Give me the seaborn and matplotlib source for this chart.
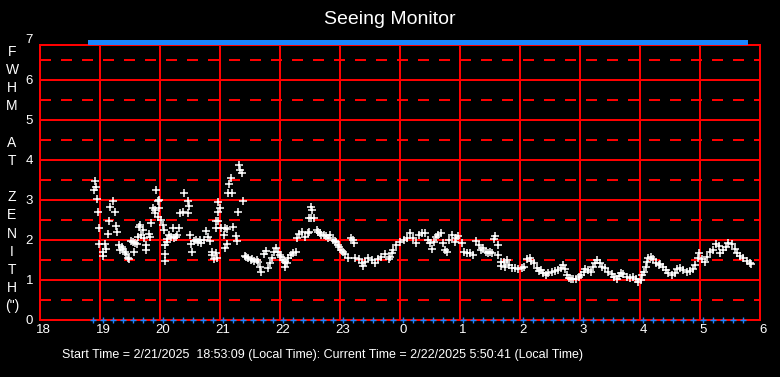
import matplotlib
matplotlib.use("Agg")
import matplotlib.pyplot as plt
import matplotlib.transforms as mtransforms
import pandas as pd
import seaborn as sns

# seeing samples: hour of night (hours after midnight run on past 24) and FWHM in arcsec
seeing_hour = [
    18.90, 18.91, 18.93, 18.95, 18.97, 18.98, 18.99, 19.05,
    19.05, 19.08, 19.10, 19.13, 19.15, 19.17, 19.22, 19.25,
    19.27, 19.29, 19.32, 19.33, 19.36, 19.38, 19.41, 19.44,
    19.47, 19.48, 19.51, 19.55, 19.57, 19.58, 19.61, 19.63,
    19.65, 19.66, 19.69, 19.72, 19.73, 19.76, 19.77, 19.81,
    19.83, 19.85, 19.88, 19.91, 19.92, 19.93, 19.96, 19.97,
    19.98, 19.99, 20.01, 20.05, 20.07, 20.08, 20.09, 20.09,
    20.12, 20.12, 20.15, 20.19, 20.21, 20.24, 20.27, 20.28,
    20.31, 20.34, 20.38, 20.40, 20.46, 20.46, 20.48, 20.50,
    20.52, 20.54, 20.57, 20.60, 20.63, 20.66, 20.69, 20.73,
    20.77, 20.80, 20.83, 20.86, 20.87, 20.90, 20.93, 20.94,
    20.93, 20.95, 20.96, 20.97, 20.97, 21.00, 21.02, 21.07,
    21.08, 21.08, 21.11, 21.12, 21.13, 21.15, 21.18, 21.20,
    21.22, 21.26, 21.28, 21.30, 21.32, 21.34, 21.37, 21.38,
    21.41, 21.44, 21.47, 21.51, 21.54, 21.57, 21.61, 21.63,
    21.66, 21.69, 21.74, 21.77, 21.80, 21.83, 21.86, 21.90,
    21.94, 21.97, 22.00, 22.02, 22.05, 22.08, 22.09, 22.12,
    22.14, 22.18, 22.22, 22.26, 22.29, 22.32, 22.36, 22.41,
    22.46, 22.48, 22.48, 22.51, 22.52, 22.54, 22.57, 22.61,
    22.64, 22.66, 22.69, 22.74, 22.77, 22.80, 22.84, 22.88,
    22.91, 22.93, 22.96, 22.98, 23.02, 23.05, 23.08, 23.13,
    23.19, 23.22, 23.24, 23.25, 23.31, 23.36, 23.39, 23.42,
    23.47, 23.53, 23.58, 23.64, 23.69, 23.75, 23.81, 23.83,
    23.86, 23.89, 23.94, 24.00, 24.06, 24.11, 24.17, 24.22,
    24.26, 24.31, 24.36, 24.42, 24.47, 24.50, 24.53, 24.56,
    24.60, 24.64, 24.68, 24.72, 24.75, 24.78, 24.82, 24.86,
    24.92, 24.94, 24.97, 25.03, 25.06, 25.11, 25.17, 25.22,
    25.27, 25.31, 25.35, 25.39, 25.43, 25.47, 25.50, 25.54,
    25.56, 25.58, 25.63, 25.64, 25.68, 25.69, 25.74, 25.75,
    25.78, 25.81, 25.86, 25.92, 25.97, 26.03, 26.07, 26.11,
    26.17, 26.19, 26.24, 26.28, 26.32, 26.35, 26.39, 26.43,
    26.47, 26.53, 26.58, 26.64, 26.68, 26.72, 26.75, 26.78,
    26.81, 26.85, 26.89, 26.94, 26.98, 27.02, 27.06, 27.08,
    27.14, 27.18, 27.22, 27.25, 27.29, 27.33, 27.37, 27.42,
    27.47, 27.53, 27.57, 27.61, 27.65, 27.69, 27.72, 27.78,
    27.83, 27.89, 27.94, 27.97, 28.01, 28.04, 28.07, 28.10,
    28.11, 28.14, 28.18, 28.22, 28.27, 28.31, 28.34, 28.39,
    28.43, 28.47, 28.53, 28.58, 28.62, 28.67, 28.72, 28.78,
    28.83, 28.88, 28.92, 28.96, 28.99, 29.03, 29.08, 29.12,
    29.17, 29.22, 29.27, 29.31, 29.34, 29.39, 29.43, 29.47,
    29.53, 29.58, 29.62, 29.67, 29.72, 29.78, 29.83, 29.85,
]
seeing_fwhm = [
    3.25, 3.47, 3.32, 3.03, 2.69, 2.29, 1.89, 1.71,
    1.60, 1.89, 1.77, 2.14, 2.47, 2.82, 2.97, 2.69,
    2.35, 2.19, 1.88, 1.75, 1.83, 1.78, 1.71, 1.64,
    1.54, 1.53, 1.98, 1.94, 1.71, 1.92, 1.89, 2.08,
    2.33, 2.38, 2.13, 2.25, 2.04, 1.75, 1.88, 2.14,
    2.08, 2.43, 2.81, 2.75, 2.68, 3.25, 2.97, 2.58,
    2.79, 3.00, 2.50, 2.38, 2.25, 1.88, 1.64, 1.48,
    2.03, 1.94, 2.13, 2.08, 2.29, 2.04, 2.08, 2.13,
    2.29, 2.67, 2.69, 3.18, 2.97, 2.67, 2.86, 2.13,
    1.89, 1.71, 1.98, 2.00, 1.94, 2.00, 1.92, 2.00,
    2.23, 2.08, 1.98, 1.71, 1.63, 1.53, 2.29, 2.47,
    1.67, 1.54, 2.47, 2.69, 2.96, 2.81, 2.31, 2.13,
    2.29, 1.81, 1.89, 2.28, 3.17, 3.39, 3.54, 3.17,
    2.33, 2.11, 1.98, 2.69, 3.88, 3.75, 3.67, 2.98,
    1.60, 1.58, 1.56, 1.50, 1.52, 1.48, 1.50, 1.46,
    1.33, 1.21, 1.64, 1.73, 1.29, 1.42, 1.54, 1.71,
    1.79, 1.69, 1.63, 1.58, 1.50, 1.46, 1.33, 1.42,
    1.54, 1.63, 1.67, 1.71, 2.04, 2.14, 2.19, 2.08,
    2.17, 2.19, 2.54, 2.54, 2.83, 2.75, 2.54, 2.25,
    2.20, 2.17, 2.13, 2.13, 2.10, 2.06, 2.13, 2.00,
    1.97, 1.94, 1.88, 1.83, 1.75, 1.69, 1.64, 1.56,
    2.04, 2.00, 1.93, 1.54, 1.52, 1.42, 1.35, 1.46,
    1.54, 1.50, 1.43, 1.52, 1.57, 1.65, 1.52, 1.57,
    1.67, 1.75, 1.88, 1.96, 2.00, 2.04, 2.17, 2.04,
    1.93, 2.13, 2.17, 2.18, 2.00, 1.92, 1.77, 1.96,
    2.08, 2.13, 2.18, 1.92, 1.75, 1.71, 2.00, 2.13,
    1.96, 2.04, 2.10, 1.93, 1.71, 1.67, 1.67, 1.63,
    1.98, 1.88, 1.75, 1.79, 1.71, 1.67, 1.71, 1.67,
    2.02, 2.10, 1.88, 1.63, 1.46, 1.35, 1.46, 1.33,
    1.50, 1.38, 1.29, 1.29, 1.27, 1.29, 1.33, 1.52,
    1.54, 1.48, 1.42, 1.29, 1.23, 1.25, 1.18, 1.13,
    1.17, 1.21, 1.23, 1.25, 1.29, 1.38, 1.27, 1.13,
    1.04, 1.02, 1.02, 1.02, 1.07, 1.13, 1.21, 1.27,
    1.25, 1.21, 1.33, 1.43, 1.50, 1.42, 1.33, 1.29,
    1.21, 1.15, 1.08, 1.02, 1.10, 1.17, 1.15, 1.07,
    1.04, 1.08, 1.02, 0.96, 1.00, 1.13, 1.21, 1.33,
    1.46, 1.54, 1.57, 1.52, 1.43, 1.38, 1.40, 1.33,
    1.25, 1.18, 1.13, 1.18, 1.27, 1.29, 1.25, 1.21,
    1.23, 1.27, 1.38, 1.54, 1.67, 1.52, 1.46, 1.58,
    1.71, 1.75, 1.90, 1.85, 1.67, 1.75, 1.83, 1.92,
    1.90, 1.77, 1.67, 1.60, 1.54, 1.48, 1.42, 1.40,
]

# status marks (one every 10 minutes) shown on the top and bottom edges
sample_clock = (
    "18:53 19:03 19:13 19:23 19:33 19:43 19:53 20:03 20:13 20:23 20:33 20:43 20:53 "
    "21:03 21:13 21:23 21:33 21:43 21:53 22:03 22:13 22:23 22:33 22:43 22:53 "
    "23:03 23:13 23:23 23:33 23:43 23:53 00:03 00:13 00:23 00:33 00:43 00:53 "
    "01:03 01:13 01:23 01:33 01:43 01:53 02:03 02:13 02:23 02:33 02:43 02:53 "
    "03:03 03:13 03:23 03:33 03:43 03:53 04:03 04:13 04:23 04:33 04:43 04:53 "
    "05:03 05:13 05:23 05:33 05:43"
).split()

hour_ticks = [18, 19, 20, 21, 22, 23, 24, 25, 26, 27, 28, 29, 30]
hour_labels = ["18", "19", "20", "21", "22", "23", "0", "1", "2", "3", "4", "5", "6"]
fwhm_ticks = [0, 1, 2, 3, 4, 5, 6]
fwhm_half = [0.5, 1.5, 2.5, 3.5, 4.5, 5.5, 6.5]

title_text = "Seeing Monitor"
ylabel_chars = ["F", "W", "H", "M", "", "A", "T", "", "Z", "E", "N", "I", "T", "H", "(\")"]
footer_text = ("Start Time = 2/21/2025  18:53:09 (Local Time): "
               "Current Time = 2/22/2025 5:50:41 (Local Time)")


def clock_to_hour(s):
    h, m = map(int, s.split(":"))
    if h < 12:
        h += 24
    return h + m / 60


sample_hour = [clock_to_hour(s) for s in sample_clock]
seeing = pd.DataFrame({"hour": seeing_hour, "fwhm": seeing_fwhm})
marks = pd.DataFrame({"hour": sample_hour, "low": 0.0, "high": 7.0})

sns.set_style("dark", {"axes.facecolor": "black", "figure.facecolor": "black",
                       "axes.edgecolor": "red", "grid.color": "red"})
plt.rcParams["font.family"] = ["Liberation Sans", "DejaVu Sans"]
plt.rcParams["lines.scale_dashes"] = False

RED = "#ff0000"
BLUE = "#1a85ff"

fig = plt.figure(figsize=(7.8, 3.77), dpi=100)
ax = fig.add_axes([40 / 780, 57 / 377, 720 / 780, 275 / 377])

ax.set_xlim(18, 30)
ax.set_ylim(0, 6.875)
ax.set_xticks(hour_ticks, hour_labels)
ax.set_yticks(fwhm_ticks)
ax.set_yticks(fwhm_half, minor=True)

ax.grid(True, which="major", color=RED, lw=1.2, ls="-", antialiased=False)
ax.grid(True, which="minor", axis="y", color=RED, lw=1.2, ls=(0, (7.2, 7.2)),
        antialiased=False)
ax.set_axisbelow(True)
for sp in ax.spines.values():
    sp.set_color(RED)
    sp.set_linewidth(1.2)
    sp.set_antialiased(False)

ax.tick_params(which="both", length=0, colors="white", labelsize=9.5)
ax.tick_params(axis="y", pad=5)
ax.tick_params(axis="x", pad=3)
shift = mtransforms.ScaledTranslation(3 / 100, 0, fig.dpi_scale_trans)
for lab in ax.get_xticklabels():
    lab.set_transform(lab.get_transform() + shift)

# seeing values
sns.scatterplot(data=seeing, x="hour", y="fwhm", marker="+", color="white",
                s=36, linewidth=1.1, ax=ax, zorder=3, legend=False)

# blue status marks
sns.scatterplot(data=marks, x="hour", y="low", marker="+", color=BLUE,
                s=22, linewidth=1.0, ax=ax, zorder=4, clip_on=False, legend=False)
block = [(-1, -1), (1, -1), (1, 0), (-1, 0)]
sns.scatterplot(data=marks, x="hour", y="high", marker=block, color=BLUE,
                s=50, linewidth=0, ax=ax, zorder=4, clip_on=False, legend=False)

ax.set_xlabel("")
ax.set_ylabel("")

# tick label for 7 sits just above the frame
ytrans = mtransforms.blended_transform_factory(ax.transAxes, ax.transData)
ax.text(-7 / 720, 7, "7", transform=ytrans, ha="right", va="center",
        color="white", fontsize=9.5, clip_on=False)

fig.text(0.5, 1 - 20 / 377, title_text, ha="center", va="center",
         color="white", fontsize=14)
fig.text(12 / 780, 1 - 179 / 377, "\n".join(ylabel_chars), ha="center",
         va="center", color="white", fontsize=10, linespacing=1.38,
         multialignment="center")
fig.text(62 / 780, 1 - 355 / 377, footer_text, ha="left", va="center",
         color="white", fontsize=9)

fig.savefig("out.png", dpi=100, facecolor="black")
